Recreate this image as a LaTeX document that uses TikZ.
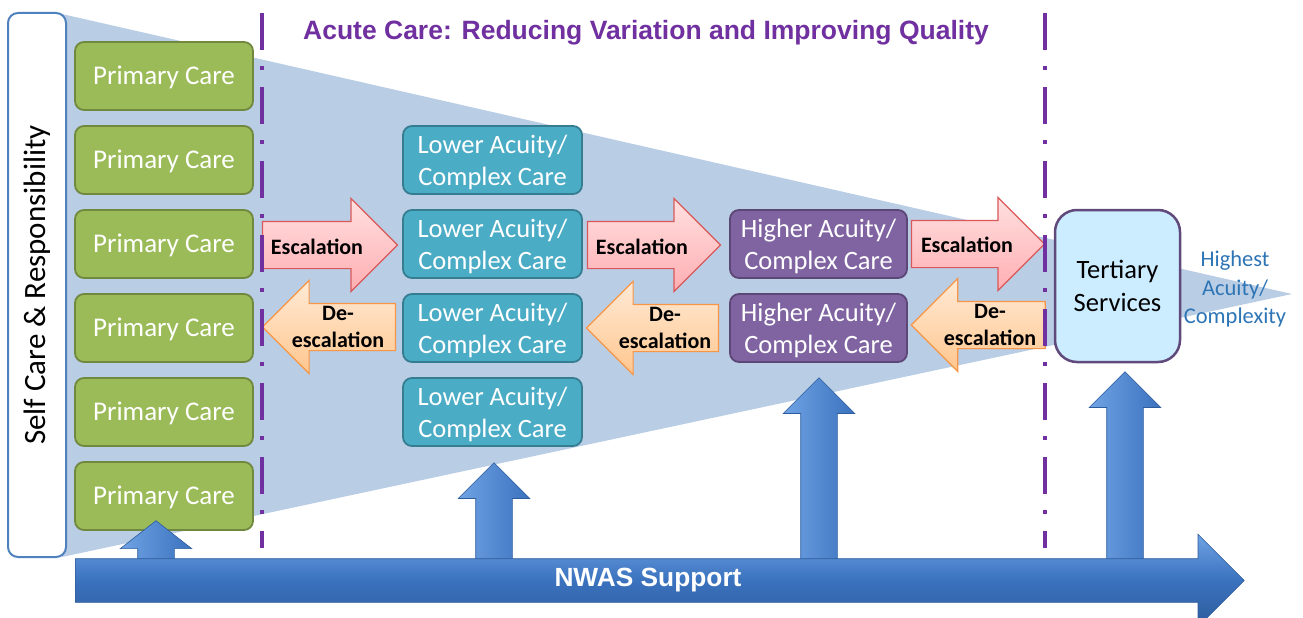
\documentclass[tikz,border=0pt]{standalone}
\usepackage{fontspec}
\setmainfont{Carlito}
\newfontfamily\arialfont{Liberation Sans}
\usetikzlibrary{shapes.arrows,calc}
\definecolor{tri}{HTML}{B9CDE5}
\definecolor{dashpurple}{HTML}{7030A0}
\definecolor{selfblue}{HTML}{4F81BD}
\definecolor{greenfill}{HTML}{9BBB59}
\definecolor{greenedge}{HTML}{71893F}
\definecolor{tealfill}{HTML}{4BACC6}
\definecolor{tealedge}{HTML}{357D91}
\definecolor{purplefill}{HTML}{8064A2}
\definecolor{purpleedge}{HTML}{5C4776}
\definecolor{tertfill}{HTML}{CCECFF}
\definecolor{tertedge}{HTML}{604A7B}
\definecolor{hightext}{HTML}{2E75B6}
\definecolor{escedge}{HTML}{D9595A}
\definecolor{esctop}{HTML}{FFE0E0}
\definecolor{escbot}{HTML}{FFAEB2}
\definecolor{deedge}{HTML}{F79646}
\definecolor{detop}{HTML}{FFEAD6}
\definecolor{debot}{HTML}{FFC68E}
\definecolor{bluelight}{HTML}{6FA3E4}
\definecolor{bluemain}{HTML}{3B72BE}
\definecolor{bluedark}{HTML}{2D5C9C}
\tikzset{
  selfbox/.style={rotate=90, draw=selfblue, line width=2pt, fill=white, rounded corners=10pt,
    minimum width=544pt, minimum height=58pt, inner sep=0pt, font=\fontsize{31}{36}\selectfont},
  carebox/.style={line width=1.8pt, rounded corners=9pt, minimum height=68pt, align=center,
    inner sep=0pt, font=\fontsize{26.5}{32}\selectfont, text=white},
  primary/.style={carebox, fill=greenfill, draw=greenedge, minimum width=178pt,
    font=\fontsize{27}{32}\selectfont, text height=17pt, text depth=0pt},
  twoline/.style={text height=52pt, text depth=1pt},
  lower/.style={carebox, twoline, fill=tealfill, draw=tealedge, minimum width=179pt},
  higher/.style={carebox, twoline, fill=purplefill, draw=purpleedge, minimum width=177pt},
  tertbox/.style={carebox, fill=tertfill, draw=tertedge, line width=2.5pt, rounded corners=22pt,
    minimum width=125pt, minimum height=152pt, text=black, font=\fontsize{26.5}{33}\selectfont},
  esc/.style={single arrow, anchor=tail, inner sep=23pt, minimum width=92pt,
    single arrow head extend=23pt, draw=escedge, line width=1.2pt, top color=esctop, bottom color=escbot},
  desc/.style={single arrow, shape border rotate=180, anchor=tail, inner sep=23pt, minimum width=92pt,
    single arrow head extend=23pt, draw=deedge, line width=1.2pt, top color=detop, bottom color=debot},
  arrowlabel/.style={inner sep=0pt, align=center, font=\fontsize{22}{27}\selectfont\bfseries, text=black},
  uparrow/.style={single arrow, shape border rotate=90, anchor=tail, inner sep=18pt, minimum width=71pt,
    single arrow head extend=17.5pt, draw=bluedark, line width=0.6pt, left color=bluelight, right color=bluemain},
  acuteline/.style={draw=dashpurple, line width=3.5pt, dash pattern=on 37pt off 16pt on 4pt off 17pt},
}
\begin{document}
\begin{tikzpicture}[x=1pt,y=-1pt]
\useasboundingbox (0,0) rectangle (1303,618);
% funnel
\fill[tri] (62,14) -- (1292,294) -- (62,557) -- cycle;
% self care
\node[selfbox] (self) at (37,285) {Self Care \& Responsibility};
% title
\node[inner sep=0pt, text=dashpurple, font=\fontsize{26.5}{31}\selectfont\arialfont\bfseries] (title) at (646,33)
  {Acute Care: Reducing Variation and Improving Quality};
% primary care
\foreach \i/\y in {1/76,2/160,3/244,4/328,5/412,6/496}
  \node[primary] (pc\i) at (164,\y) {Primary Care};
% lower acuity
\foreach \i/\y in {1/160,2/244,3/328,4/412}
  \node[lower] (la\i) at (492.5,\y) {Lower Acuity/\\Complex Care};
% higher acuity
\node[higher] (ha1) at (818.5,244) {Higher Acuity/\\Complex Care};
\node[higher] (ha2) at (818.5,328) {Higher Acuity/\\Complex Care};
% tertiary
\node[tertbox] (tert) at (1117.5,286) {Tertiary\\Services};
\node[inner sep=0pt, align=center, text=hightext, font=\fontsize{22.5}{28.5}\selectfont] (highest) at (1235,289)
  {Highest\\Acuity/\\Complexity};
% escalation arrows
\node[esc, minimum height=135pt] (e1) at ($(pc3.east)+(8,1)$) {};
\node[esc, minimum height=133pt] (e2) at ($(la2.east)+(4,1)$) {};
\node[esc, minimum height=133pt] (e3) at ($(ha1.east)+(3,0)$) {};
\node[desc, minimum height=133pt] (d1) at ($(la3.west)+(-6,-1)$) {};
\node[desc, minimum height=132pt] (d2) at ($(ha2.west)+(-10,0)$) {};
\node[desc, minimum height=134pt] (d3) at ($(tert.west)+(-8,39)$) {};
\node[arrowlabel] (e1l) at (317,247) {Escalation};
\node[arrowlabel] (e2l) at (642,247) {Escalation};
\node[arrowlabel] (e3l) at (967,245) {Escalation};
\node[arrowlabel] (d1l) at (338,327) {De-\\escalation};
\node[arrowlabel] (d2l) at (665,328) {De-\\escalation};
\node[arrowlabel] (d3l) at (990,325) {De-\\escalation};
% dash-dot boundaries
\coordinate (l1t) at (262,13); \coordinate (l1b) at (262,548);
\coordinate (l2t) at (1045,13); \coordinate (l2b) at (1045,548);
\draw[acuteline] (l1t) -- (l1b);
\draw[acuteline] (l2t) -- (l2b);
% support arrows
\node[uparrow, minimum height=69pt, single arrow tip angle=104] (u1) at (156,590) {};
\node[uparrow, minimum height=127pt] (u2) at (494,590) {};
\node[uparrow, minimum height=212pt] (u3) at (819,590) {};
\node[uparrow, minimum height=218pt] (u4) at (1125,590) {};
\node[single arrow, anchor=tail, inner sep=21.5pt, minimum width=92pt, single arrow head extend=24.5pt,
  minimum height=1169pt, draw=bluedark, line width=0.6pt, top color=bluelight, bottom color=bluedark,
  middle color=bluemain] (nwas) at (75,580.5) {};
\node[inner sep=0pt, text=white, font=\fontsize{26.3}{30}\selectfont\arialfont\bfseries] (nwasl) at (648,580) {NWAS Support};
\end{tikzpicture}
\end{document}
